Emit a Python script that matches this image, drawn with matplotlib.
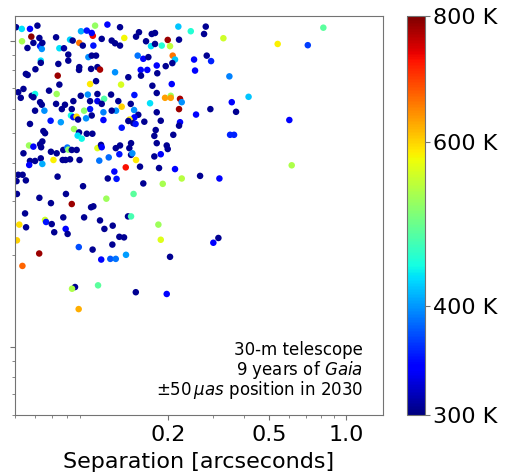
import matplotlib
matplotlib.use('Agg')
import numpy as np
import matplotlib.pyplot as plt
from matplotlib.colors import FuncNorm
from matplotlib.ticker import NullFormatter

# Companion separation [arcsec], y quantity (log axis, labels cropped), Teff [K]
sep = [
    0.0507, 0.0534, 0.0575, 0.0615, 0.0535, 0.0582, 0.0562, 0.0593, 0.0626, 0.0630,
    0.0640, 0.0643, 0.0728, 0.0750, 0.0782, 0.0826, 0.0846, 0.0898, 0.0927, 0.0912,
    0.0961, 0.1036, 0.1015, 0.1005, 0.1020, 0.1100, 0.1158, 0.1204, 0.1241, 0.1298,
    0.1298, 0.1349, 0.0813, 0.0813, 0.0743, 0.0634, 0.0634, 0.0604, 0.0554, 0.0563,
    0.0739, 0.0898, 0.0896, 0.0975, 0.1005, 0.1045, 0.0999, 0.1058, 0.1083, 0.1241,
    0.1399, 0.0990, 0.1045, 0.1310, 0.0750, 0.0542, 0.0517, 0.0529, 0.0584, 0.0602,
    0.0593, 0.0683, 0.0732, 0.0630, 0.0640, 0.0602, 0.0655, 0.0728, 0.0767, 0.0789,
    0.0851, 0.0910, 0.0970, 0.0990, 0.1058, 0.1058, 0.1124, 0.1100, 0.1197, 0.1278,
    0.1318, 0.1252, 0.1204, 0.1117, 0.0990, 0.0839, 0.0938, 0.0833, 0.0851, 0.1005,
    0.1541, 0.1500, 0.1729, 0.1781, 0.1642, 0.1718, 0.1781, 0.1893, 0.1998, 0.2040,
    0.2199, 0.2213, 0.2461, 0.2818, 0.2775, 0.3305, 0.1523, 0.1602, 0.1677, 0.2090,
    0.2134, 0.2083, 0.1962, 0.1809, 0.1565, 0.1661, 0.1818, 0.1569, 0.2535, 0.2843,
    0.2957, 0.2558, 0.3489, 0.1739, 0.2072, 0.1809, 0.1478, 0.1430, 0.1474, 0.1703,
    0.1950, 0.2053, 0.2053, 0.2233, 0.2268, 0.2213, 0.1809, 0.1531, 0.1478, 0.2581,
    0.2938, 0.3565, 0.3706, 0.4150, 0.1415, 0.540, 0.709, 0.816, 0.600, 0.613,
    0.3159, 0.3018, 0.3511, 0.3640, 0.2677, 0.3188, 0.2268, 0.0575, 0.0693, 0.0760,
    0.0876, 0.0888, 0.0955, 0.1117, 0.0649, 0.0659, 0.0856, 0.0896, 0.0885, 0.0918,
    0.0961, 0.1011, 0.1318, 0.1399, 0.0570, 0.0593, 0.0630, 0.0643, 0.0636, 0.0542,
    0.0695, 0.0732, 0.0777, 0.0806, 0.0813, 0.0839, 0.0877, 0.1058, 0.1093, 0.1100,
    0.1249, 0.1298, 0.1290, 0.1412, 0.0575, 0.0602, 0.0634, 0.0571, 0.0643, 0.0711,
    0.0773, 0.0793, 0.0826, 0.0900, 0.1076, 0.1172, 0.1367, 0.1233, 0.1162, 0.1258,
    0.0517, 0.0538, 0.0509, 0.0554, 0.0738, 0.0929, 0.0511, 0.0626, 0.0695, 0.0796,
    0.0839, 0.0999, 0.1020, 0.1147, 0.1467, 0.0550, 0.0659, 0.0777, 0.0938, 0.1083,
    0.1395, 0.1434, 0.1464, 0.1494, 0.1617, 0.1876, 0.2233, 0.2213, 0.1792, 0.1770,
    0.2101, 0.1434, 0.1809, 0.1980, 0.1998, 0.1434, 0.1451, 0.1500, 0.1555, 0.1770,
    0.1876, 0.1847, 0.2134, 0.1602, 0.1910, 0.0522, 0.0665, 0.0700, 0.0555, 0.0794,
    0.0808, 0.0716, 0.1127, 0.1215, 0.1290, 0.1346, 0.1211, 0.0511, 0.0894, 0.1013,
    0.1095, 0.1189, 0.1249, 0.1370, 0.0625, 0.0537, 0.0864, 0.0841, 0.1064, 0.0893,
    0.1836, 0.1876, 0.2040, 0.1497, 0.1980,
]
yval = [
    11.07, 10.93, 10.93, 11.20, 9.96, 10.31, 9.47, 9.84, 10.21, 9.60,
    9.40, 9.84, 10.26, 9.45, 9.45, 10.08, 10.01, 9.84, 9.64, 10.74,
    10.79, 11.20, 10.38, 10.60, 9.64, 10.14, 11.29, 10.01, 9.81, 9.64,
    11.07, 10.21, 9.01, 8.61, 8.40, 8.61, 8.47, 8.07, 7.79, 7.73,
    7.69, 8.20, 8.03, 8.84, 8.94, 8.94, 8.09, 8.20, 8.05, 7.89,
    7.60, 7.22, 7.38, 7.19, 7.19, 6.96, 6.79, 6.51, 6.61, 6.70,
    6.54, 6.87, 6.70, 6.30, 6.18, 5.91, 5.91, 6.22, 5.98, 6.18,
    6.35, 6.61, 6.67, 6.35, 6.70, 6.35, 6.46, 6.22, 6.67, 6.35,
    6.09, 5.91, 5.91, 5.84, 5.98, 5.98, 5.91, 5.70, 5.63, 5.70,
    10.66, 10.31, 10.52, 10.60, 9.96, 9.60, 9.76, 9.64, 10.06, 9.60,
    11.12, 10.08, 10.74, 11.12, 10.52, 10.19, 8.94, 8.73, 8.84, 8.94,
    8.68, 8.45, 8.26, 8.30, 8.03, 8.03, 7.83, 7.69, 8.68, 8.94,
    8.58, 7.99, 7.65, 7.13, 7.22, 6.75, 6.65, 6.22, 5.94, 6.25,
    6.51, 6.61, 6.51, 6.46, 6.30, 5.98, 5.84, 5.73, 5.62, 5.74,
    5.98, 6.30, 5.86, 6.56, 5.53, 9.76, 9.67, 11.03, 5.51, 3.92,
    2.27, 2.19, 4.93, 4.93, 3.62, 3.55, 3.55, 5.35, 5.48, 5.42,
    5.65, 5.53, 5.58, 5.51, 5.07, 4.99, 5.15, 5.02, 4.90, 4.79,
    4.97, 4.97, 5.20, 5.47, 4.55, 4.51, 4.59, 4.69, 4.49, 4.29,
    4.34, 4.29, 4.40, 4.48, 4.41, 4.40, 4.40, 4.46, 4.57, 4.49,
    4.46, 4.55, 4.26, 4.46, 4.05, 4.05, 4.13, 3.93, 3.96, 4.08,
    4.08, 4.08, 4.10, 4.08, 4.06, 4.16, 3.86, 3.74, 3.55, 3.54,
    3.65, 3.65, 3.48, 3.50, 3.60, 3.35, 3.16, 3.07, 2.95, 3.16,
    2.93, 2.86, 2.88, 3.05, 3.16, 2.73, 2.60, 2.65, 2.65, 2.59,
    2.67, 2.67, 5.38, 5.35, 5.44, 5.48, 5.42, 5.28, 5.11, 4.89,
    4.93, 4.63, 4.63, 4.55, 4.43, 4.24, 4.29, 4.08, 3.88, 4.19,
    4.26, 3.84, 3.81, 3.42, 3.41, 2.51, 2.56, 2.52, 2.46, 2.43,
    2.34, 2.37, 2.43, 2.49, 2.29, 2.28, 2.16, 2.23, 2.12, 2.08,
    1.93, 1.94, 1.94, 2.00, 2.02, 1.84, 1.57, 1.55, 1.59, 1.33,
    2.51, 2.24, 1.97, 1.51, 1.49,
]
teff = [
    306, 430, 344, 306, 528, 791, 306, 306, 306, 355,
    398, 306, 306, 430, 311, 424, 306, 660, 306, 409,
    349, 517, 731, 344, 349, 306, 344, 306, 306, 306,
    306, 577, 306, 306, 306, 430, 306, 306, 306, 306,
    782, 306, 306, 398, 306, 306, 306, 306, 773, 398,
    306, 587, 306, 558, 306, 306, 306, 306, 306, 440,
    306, 306, 522, 306, 306, 306, 398, 306, 306, 306,
    306, 306, 398, 306, 306, 333, 476, 306, 306, 306,
    602, 398, 306, 392, 349, 306, 512, 440, 349, 306,
    306, 306, 306, 306, 306, 430, 306, 451, 782, 543,
    419, 306, 451, 306, 306, 553, 387, 344, 306, 660,
    419, 306, 306, 344, 344, 344, 306, 306, 344, 306,
    355, 344, 392, 306, 344, 306, 349, 306, 398, 430,
    631, 522, 631, 773, 398, 782, 306, 306, 344, 344,
    306, 344, 306, 419, 587, 582, 366, 482, 344, 533,
    306, 339, 355, 355, 306, 344, 538, 306, 349, 403,
    592, 306, 398, 344, 306, 306, 522, 306, 430, 440,
    306, 306, 349, 306, 522, 344, 306, 306, 306, 306,
    306, 306, 306, 387, 512, 306, 306, 563, 306, 344,
    306, 306, 349, 306, 306, 306, 306, 339, 409, 582,
    306, 306, 306, 306, 387, 382, 726, 344, 306, 349,
    306, 306, 306, 306, 306, 306, 306, 306, 306, 306,
    782, 306, 306, 522, 482, 306, 553, 306, 306, 306,
    306, 471, 306, 349, 306, 306, 344, 306, 306, 306,
    306, 306, 306, 306, 306, 306, 398, 587, 306, 306,
    344, 306, 344, 306, 528, 592, 349, 306, 306, 344,
    306, 306, 306, 306, 306, 306, 306, 602, 371, 306,
    344, 376, 387, 403, 782, 670, 306, 533, 482, 622,
    522, 563, 306, 306, 344,
]

XTICKS = [0.2, 0.5, 1.0]
XTICK_LABELS = ['0.2', '0.5', '1.0']
CBAR_TICKS = [300, 400, 600, 800]
CBAR_LABELS = ['300 K', '400 K', '600 K', '800 K']
NOTE_LINES = ['30-m telescope',
              '9 years of $\\it{Gaia}$',
              '$\\pm50\\,\\mu as$ position in 2030']
FRAME = '0.45'

fig = plt.figure(figsize=(5.06, 4.72), dpi=100)
ax = fig.add_axes([0.0287, 0.1208, 0.7283, 0.8443])
cax = fig.add_axes([0.8038, 0.1208, 0.0362, 0.8443])

# colour scale is compressed like T**0.2 (matches the colorbar tick spacing)
norm = FuncNorm((lambda t: np.power(t, 0.2), lambda u: np.power(u, 5.0)),
                vmin=300, vmax=800)
sc = ax.scatter(sep, yval, c=teff, cmap='jet', norm=norm, s=22, linewidths=0)

ax.set_xscale('log')
ax.set_yscale('log')
ax.set_xlim(0.05, 1.4)
ax.set_ylim(0.6, 12)
ax.set_xticks(XTICKS)
ax.set_xticklabels(XTICK_LABELS)
ax.xaxis.set_minor_formatter(NullFormatter())
ax.tick_params(axis='x', which='both', labelsize=16, color=FRAME)
ax.tick_params(axis='y', which='both', labelleft=False, color=FRAME)
ax.set_xlabel('Separation [arcseconds]', fontsize=16, labelpad=5.5)
for sp in ax.spines.values():
    sp.set_color(FRAME)

for line, ypos in zip(NOTE_LINES, [0.150, 0.100, 0.050]):
    ax.text(0.946, ypos, line, transform=ax.transAxes,
            ha='right', va='baseline', fontsize=12)

cbar = fig.colorbar(sc, cax=cax, ticks=CBAR_TICKS)
cbar.ax.minorticks_off()
cbar.ax.set_yticks(CBAR_TICKS)
cbar.ax.set_yticklabels(CBAR_LABELS)
cbar.ax.tick_params(labelsize=16, color=FRAME, pad=2)
cbar.outline.set_edgecolor(FRAME)

fig.savefig('out.png', dpi=100)
